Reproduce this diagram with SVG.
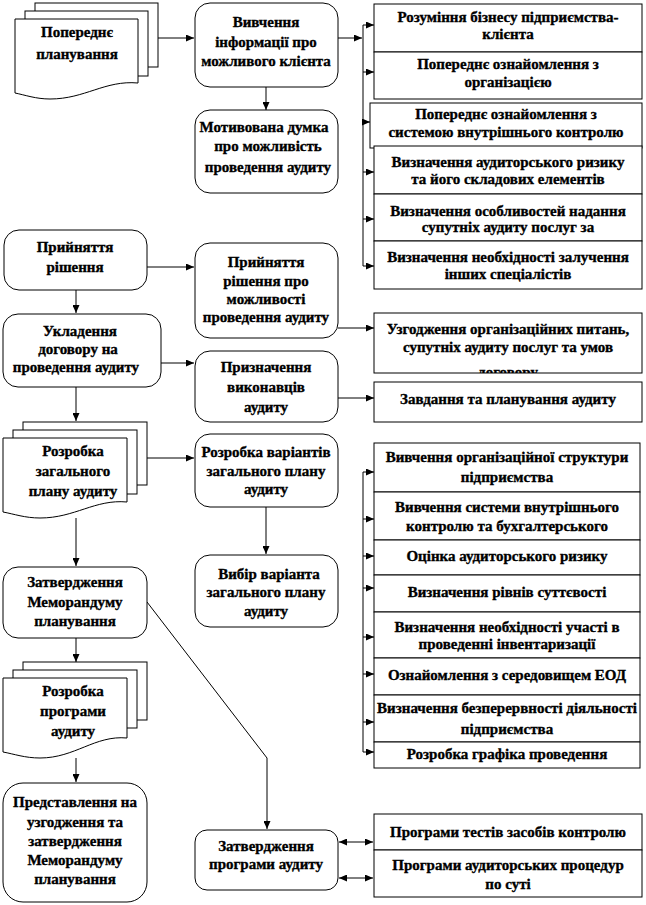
<svg xmlns="http://www.w3.org/2000/svg" width="646" height="905" viewBox="0 0 646 905">
<style>
.b{fill:#fff;stroke:#000;stroke-width:1}
.t{font-family:"Liberation Serif","Times New Roman",serif;font-weight:bold;font-size:15px;text-anchor:middle;fill:#000;stroke:#000;stroke-width:0.35}
.c{fill:none;stroke:#000;stroke-width:1}
</style>
<defs>
<marker id="a" markerWidth="8" markerHeight="7" refX="8" refY="3.5" orient="auto" markerUnits="userSpaceOnUse"><path d="M0,0 L8,3.5 L0,7 z" fill="#000"/></marker>
<marker id="s" markerWidth="8" markerHeight="7" refX="0" refY="3.5" orient="auto" markerUnits="userSpaceOnUse"><path d="M8,0 L0,3.5 L8,7 z" fill="#000"/></marker>
<clipPath id="cl"><rect x="374" y="313" width="268" height="60"/></clipPath>
</defs>
<rect width="646" height="905" fill="#fff"/>

<g id="connectors" class="c">
<path d="M138,38 H194" marker-end="url(#a)"/>
<path d="M338,38 H362" marker-end="url(#a)"/>
<path d="M363,25 V266"/>
<path d="M363,25 H374" marker-end="url(#a)"/>
<path d="M363,72 H374" marker-end="url(#a)"/>
<path d="M363,122 H370" marker-end="url(#a)"/>
<path d="M363,172 H374" marker-end="url(#a)"/>
<path d="M363,219 H374" marker-end="url(#a)"/>
<path d="M363,266 H374" marker-end="url(#a)"/>
<path d="M266,87 V110" marker-end="url(#a)"/>
<path d="M147,267 H194" marker-end="url(#a)"/>
<path d="M76,290 V313" marker-end="url(#a)"/>
<path d="M338,328 H374" marker-end="url(#a)"/>
<path d="M160,363 H194" marker-end="url(#a)"/>
<path d="M338,398 H374" marker-end="url(#a)"/>
<path d="M76,387 V421" marker-end="url(#a)"/>
<path d="M147,458 H194" marker-end="url(#a)"/>
<path d="M266,507 V554" marker-end="url(#a)"/>
<path d="M76,518 V566" marker-end="url(#a)"/>
<path d="M363,472 V752"/>
<path d="M363,472 H374" marker-end="url(#a)"/>
<path d="M363,519 H374" marker-end="url(#a)"/>
<path d="M363,556 H374" marker-end="url(#a)"/>
<path d="M363,588 H374" marker-end="url(#a)"/>
<path d="M363,637 H374" marker-end="url(#a)"/>
<path d="M363,674 H374" marker-end="url(#a)"/>
<path d="M363,722 H374" marker-end="url(#a)"/>
<path d="M363,752 H374" marker-end="url(#a)"/>
<path d="M76,638 V662" marker-end="url(#a)"/>
<path d="M147,602 L267,758 V829" marker-end="url(#a)"/>
<path d="M76,758 V782" marker-end="url(#a)"/>
<path d="M339,842 H373" marker-start="url(#s)" marker-end="url(#a)"/>
<path d="M339,878 H373" marker-start="url(#s)" marker-end="url(#a)"/>
</g>

<g id="n-poperednie">
<rect class="b" x="35" y="3" width="123" height="64"/>
<rect class="b" x="25" y="11" width="123" height="65"/>
<path class="b" d="M15,19 H138 V83 C105,80 85,99 50,99 C36,99 25,95 15,93 Z"/>
<text class="t" x="77" y="37">Попереднє</text>
<text class="t" x="77" y="59">планування</text>
</g>

<g id="n-vyvchennia">
<rect class="b" x="195" y="3" width="143" height="84" rx="15"/>
<text class="t" x="266" y="27">Вивчення</text>
<text class="t" x="266" y="47">інформації  про</text>
<text class="t" x="266" y="66">можливого клієнта</text>
</g>

<g id="n-dumka">
<rect class="b" x="195" y="110" width="143" height="83" rx="15"/>
<text class="t" x="264" y="132">Мотивована думка </text>
<text class="t" x="268" y="151">про можливість</text>
<text class="t" x="268" y="172">проведення аудиту</text>
</g>

<g id="list1">
<rect class="b" x="374" y="4" width="268" height="48"/>
<text class="t" x="508" y="22">Розуміння  бізнесу підприємства-</text>
<text class="t" x="508" y="39">клієнта</text>
<rect class="b" x="374" y="52" width="268" height="47"/>
<text class="t" x="508" y="69">Попереднє ознайомлення з</text>
<text class="t" x="508" y="87">організацією</text>
<rect class="b" x="370" y="103" width="272" height="45"/>
<text class="t" x="506" y="119">Попереднє ознайомлення з</text>
<text class="t" x="506" y="137">системою внутрішнього  контролю</text>
<rect class="b" x="374" y="146" width="268" height="48"/>
<text class="t" x="508" y="167">Визначення аудиторського  ризику</text>
<text class="t" x="508" y="184">та його складових елементів</text>
<rect class="b" x="374" y="194" width="268" height="47"/>
<text class="t" x="508" y="216">Визначення особливостей надання</text>
<text class="t" x="508" y="232">супутніх  аудиту послуг за</text>
<rect class="b" x="374" y="241" width="268" height="48"/>
<text class="t" x="508" y="262">Визначення необхідності  залучення</text>
<text class="t" x="508" y="279">інших  спеціалістів</text>
</g>

<g id="n-pryiniattia">
<rect class="b" x="4" y="230" width="143" height="60" rx="15"/>
<text class="t" x="75" y="252">Прийняття</text>
<text class="t" x="75" y="272">рішення</text>
</g>

<g id="n-rishennia">
<rect class="b" x="195" y="243" width="143" height="95" rx="15"/>
<text class="t" x="266" y="267">Прийняття</text>
<text class="t" x="266" y="286">рішення про</text>
<text class="t" x="266" y="304">можливості</text>
<text class="t" x="266" y="322">проведення аудиту</text>
</g>

<g id="n-ukladennia">
<rect class="b" x="3" y="314" width="158" height="73" rx="15"/>
<text class="t" x="80" y="336">Укладення</text>
<text class="t" x="78" y="354">договору на</text>
<text class="t" x="76" y="372">проведення аудиту</text>
</g>

<g id="n-uzgodzhennia">
<rect class="b" x="374" y="313" width="268" height="60"/>
<text class="t" x="508" y="334">Узгодження організаційних  питань,</text>
<text class="t" x="508" y="352">супутніх  аудиту послуг та умов</text>
<text class="t" x="508" y="377" clip-path="url(#cl)">договору</text>
</g>

<g id="n-pryznachennia">
<rect class="b" x="195" y="351" width="143" height="71" rx="15"/>
<text class="t" x="266" y="372">Призначення</text>
<text class="t" x="266" y="392">виконавців</text>
<text class="t" x="266" y="412">аудиту</text>
</g>

<g id="n-zavdannia">
<rect class="b" x="374" y="382" width="268" height="40"/>
<text class="t" x="508" y="404">Завдання та планування аудиту</text>
</g>

<g id="n-rozrobka-planu">
<rect class="b" x="23" y="422" width="124" height="63"/>
<rect class="b" x="13" y="430" width="124" height="64"/>
<path class="b" d="M3,438 H127 V502 C95,499 75,518 40,518 C25,518 14,514 3,512 Z"/>
<text class="t" x="73" y="456">Розробка</text>
<text class="t" x="73" y="476">загального</text>
<text class="t" x="73" y="496">плану аудиту</text>
</g>

<g id="n-variantiv">
<rect class="b" x="195" y="434" width="143" height="73" rx="15"/>
<text class="t" x="266" y="457">Розробка варіантів</text>
<text class="t" x="266" y="476">загального  плану</text>
<text class="t" x="266" y="494">аудиту</text>
</g>

<g id="n-vybir">
<rect class="b" x="195" y="555" width="143" height="72" rx="15"/>
<text class="t" x="269" y="579">Вибір варіанта</text>
<text class="t" x="266" y="597">загального  плану</text>
<text class="t" x="266" y="616">аудиту</text>
</g>

<g id="n-memorandum">
<rect class="b" x="3" y="567" width="144" height="71" rx="15"/>
<text class="t" x="75" y="587">Затвердження</text>
<text class="t" x="75" y="607">Меморандуму</text>
<text class="t" x="75" y="626">планування</text>
</g>

<g id="list2">
<rect class="b" x="374" y="443" width="266" height="49"/>
<text class="t" x="507" y="462">Вивчення організаційної  структури</text>
<text class="t" x="507" y="482">підприємства</text>
<rect class="b" x="374" y="492" width="266" height="48"/>
<text class="t" x="507" y="512">Вивчення системи внутрішнього</text>
<text class="t" x="507" y="531">контролю та бухгалтерського</text>
<rect class="b" x="374" y="540" width="266" height="35"/>
<text class="t" x="507" y="561">Оцінка аудиторського  ризику</text>
<rect class="b" x="374" y="575" width="266" height="37"/>
<text class="t" x="507" y="597">Визначення рівнів  суттєвості</text>
<rect class="b" x="374" y="612" width="266" height="46"/>
<text class="t" x="507" y="632">Визначення необхідності  участі  в</text>
<text class="t" x="507" y="649">проведенні інвентаризації</text>
<rect class="b" x="374" y="658" width="266" height="37"/>
<text class="t" x="507" y="680">Ознайомлення з середовищем ЕОД</text>
<rect class="b" x="374" y="695" width="266" height="47"/>
<text class="t" x="507" y="713">Визначення безперервності діяльності</text>
<text class="t" x="507" y="734">підприємства</text>
<rect class="b" x="374" y="742" width="266" height="26"/>
<text class="t" x="507" y="759">Розробка графіка  проведення</text>
</g>

<g id="n-rozrobka-prohramy">
<rect class="b" x="23" y="662" width="124" height="58"/>
<rect class="b" x="13" y="670" width="124" height="58"/>
<path class="b" d="M3,678 H127 V738 C95,735 75,758 40,758 C25,758 14,754 3,752 Z"/>
<text class="t" x="73" y="696">Розробка</text>
<text class="t" x="73" y="716">програми</text>
<text class="t" x="73" y="736">аудиту</text>
</g>

<g id="n-predstavlennia">
<rect class="b" x="3" y="783" width="144" height="119" rx="20"/>
<text class="t" x="75" y="807">Представлення на</text>
<text class="t" x="75" y="827">узгодження  та</text>
<text class="t" x="75" y="846">затвердження</text>
<text class="t" x="75" y="865">Меморандуму</text>
<text class="t" x="75" y="884">планування</text>
</g>

<g id="n-zatv-prohramy">
<rect class="b" x="195" y="830" width="143" height="60" rx="12"/>
<text class="t" x="266" y="851">Затвердження</text>
<text class="t" x="266" y="869">програми аудиту</text>
</g>

<g id="list3">
<rect class="b" x="374" y="814" width="268" height="36"/>
<text class="t" x="508" y="837">Програми тестів засобів  контролю</text>
<rect class="b" x="374" y="850" width="268" height="47"/>
<text class="t" x="508" y="870">Програми аудиторських  процедур</text>
<text class="t" x="508" y="889">по суті</text>
</g>
</svg>
